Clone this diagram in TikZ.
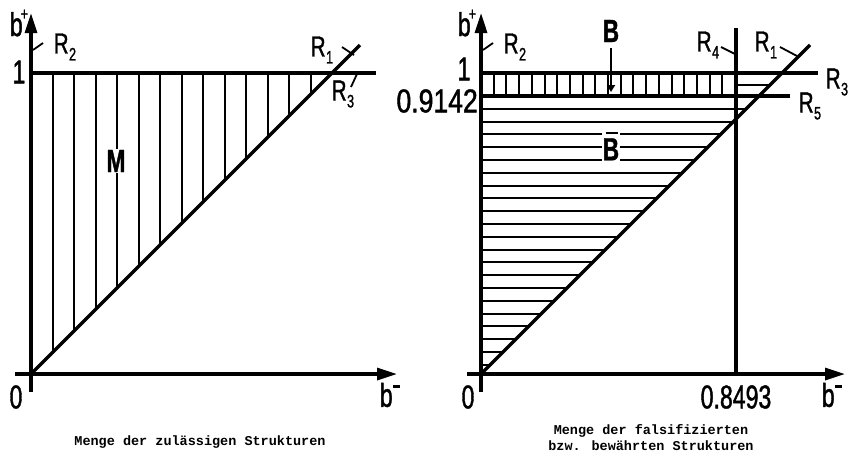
\documentclass[tikz,border=0pt]{standalone}
\usepackage{fontspec}
\setmainfont{Liberation Sans}
\newfontfamily\dinfont[FakeStretch=0.7,FakeBold=1.2]{Liberation Sans}
\newfontfamily\capfont{Liberation Mono}
\usetikzlibrary{arrows.meta}

\newcommand\Rlab[1]{R\kern0.5pt\raisebox{-7pt}{\fontsize{18}{18}\selectfont #1}}
\newcommand\bplus{b\kern-2pt\raisebox{16pt}{\fontsize{18}{18}\selectfont +}}
\newcommand\bminus{b\kern0.5pt\raisebox{19pt}{\rule{7pt}{2.4pt}}}
\newcommand\barB{\makebox[0pt][l]{\hspace{3pt}\rule[26pt]{12pt}{2.6pt}}B}

\begin{document}
\begin{tikzpicture}[x=1pt, y=-1pt,
    axis/.style={line width=3.2pt, -{Triangle[length=20pt,width=12pt]}},
    bound/.style={line width=3.5pt},
    hatch/.style={line width=2pt},
    tickline/.style={line width=1.8pt},
    num/.style={font=\dinfont\fontsize{33}{33}\selectfont, inner sep=0pt},
    rlab/.style={font=\dinfont\fontsize{29}{29}\selectfont, inner sep=0pt},
    setlab/.style={font=\dinfont\bfseries\fontsize{32}{32}\selectfont, inner sep=1pt, fill=white},
    caption/.style={font=\capfont\bfseries\fontsize{13.5}{16}\selectfont, align=center, inner sep=0pt}
  ]
  \useasboundingbox (0,0) rectangle (859,459);

  % left: admissible structures
  \coordinate (lO) at (31,374);
  \coordinate (lOne) at (31,73);
  \coordinate (lDiag) at (360,45);
  \draw[axis] (15,374) -- (397,374);
  \draw[axis] (31,392) -- (31,13);
  \foreach \k in {1,...,13}
    \draw[hatch] ({31+301*\k/14},73) -- ({31+301*\k/14},{374-301*\k/14});
  \draw[bound] (lOne) -- (376,73);
  \draw[bound] (lO) -- (lDiag);

  \node[setlab] (M) at (116,161) {M};
  \node[rlab] (lR2) at (65,47) {\Rlab{2}};
  \node[rlab] (lR1) at (322,50) {\Rlab{1}};
  \node[rlab] (lR3) at (343,94) {\Rlab{3}};
  \draw[tickline] (33,50) -- (43,43);
  \draw[tickline] (342,47) -- (354,55);
  \draw[tickline] (357,74) -- (351,87);
  \node[num] (lb1) at (19,72) {1};
  \node[num] (lb0) at (16,397) {0};
  \node[num] (lbp) at (19,23) {\bplus};
  \node[num] (lbm) at (390,395) {\bminus};
  \node[caption] (lcap) at (200,442) {Menge der zulässigen Strukturen};

  % right: falsified / confirmed structures
  \coordinate (rO) at (481,374);
  \coordinate (rOne) at (481,73);
  \coordinate (rLow) at (481,96);
  \coordinate (rDiag) at (810,45);
  \coordinate (rCutTop) at (736,28);
  \coordinate (rCutBot) at (736,374);
  \draw[axis] (467,374) -- (845,374);
  \draw[axis] (481,392) -- (481,13);
  \foreach \k in {1,...,19}
    \draw[hatch] ({481+12.7*\k},73) -- ({481+12.7*\k},96);
  \foreach \k in {1,...,21}
    \draw[hatch] (481,{96+12.8*\k}) -- ({855-96-12.8*\k},{96+12.8*\k});
  \draw[hatch] (736,84.5) -- (770.5,84.5);
  \draw[bound] (rOne) -- (818,73);
  \draw[bound] (rLow) -- (790,96);
  \draw[bound] (rCutTop) -- (rCutBot);
  \draw[bound] (rO) -- (rDiag);

  \node[setlab, fill=none] (B) at (611,31) {B};
  \coordinate (Btip) at (611,92);
  \draw[hatch, -{Triangle[length=7pt,width=8pt]}] (611,48) -- (Btip);
  \node[setlab] (Bbar) at (611,146) {\barB};
  \node[rlab] (rR2) at (515,47) {\Rlab{2}};
  \node[rlab] (rR4) at (708,45) {\Rlab{4}};
  \node[rlab] (rR1) at (766,45) {\Rlab{1}};
  \node[rlab] (rR3) at (837,82) {\Rlab{3}};
  \node[rlab] (rR5) at (810,106) {\Rlab{5}};
  \draw[tickline] (483,50) -- (493,43);
  \draw[tickline] (721,47) -- (735,54);
  \draw[tickline] (780,47) -- (797,56);
  \node[num] (rb1) at (464,69) {1};
  \node[num, anchor=east, xscale=1.15] (rb09) at (478,101) {0.9142};
  \node[num] (rb0) at (468,397) {0};
  \node[num] (rb08) at (736,397) {0.8493};
  \node[num] (rbp) at (467,23) {\bplus};
  \node[num] (rbm) at (832,395) {\bminus};
  \node[caption] (rcap) at (651,438) {Menge der falsifizierten\\bzw. bewährten Strukturen};
\end{tikzpicture}
\end{document}
